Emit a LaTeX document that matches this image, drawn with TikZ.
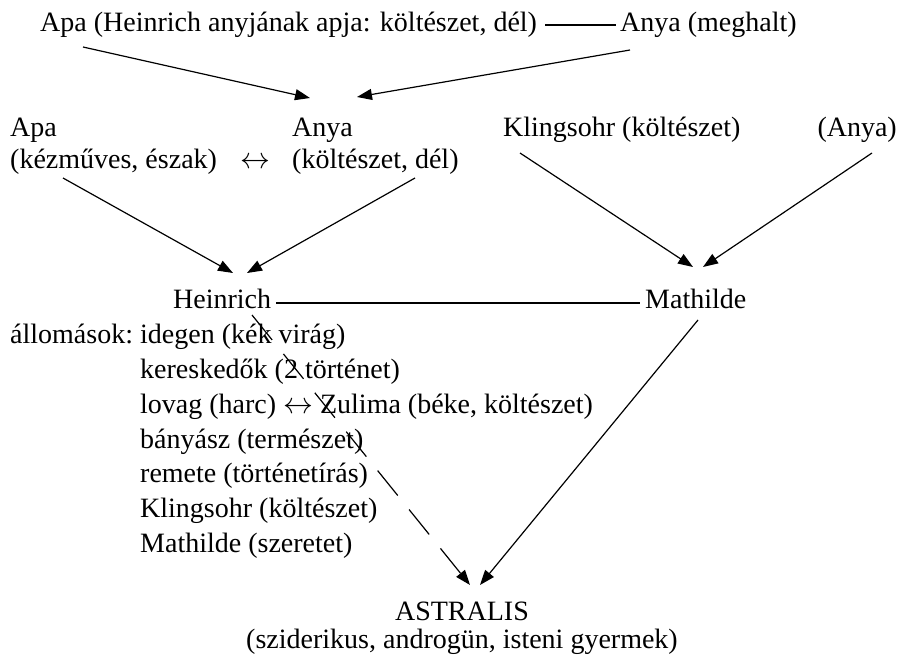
\documentclass[tikz,border=0pt]{standalone}
\usepackage{fontspec}
\setmainfont{Liberation Serif}
\usetikzlibrary{arrows.meta}
\begin{document}
\begin{tikzpicture}[x=1pt,y=-1pt,
  txt/.style={inner sep=0pt, anchor=base west, font=\fontsize{28}{34}\selectfont},
  arr/.style={line width=1.2pt, -{Triangle[length=15pt,width=11pt]}},
  link/.style={line width=1.2pt}]
\useasboundingbox (0,0) rectangle (906,658);
% row 1
\node[txt] (gpapa) at (40,32) {Apa (Heinrich anyjának apja: költészet, dél)};
\node[txt] (gpanya) at (620,32) {Anya (meghalt)};
\draw[link] ([shift={(8pt,7pt)}]gpapa.base east) -- ([shift={(-4pt,7pt)}]gpanya.base west);
% row 2
\node[txt] (apa) at (10,137) {Apa};
\node[txt] (apad) at (10,169) {(kézműves, észak)};
\node[txt] (lr) at (240,169) {\scalebox{1.2}{$\leftrightarrow$}};
\node[txt] (anya) at (292,137) {Anya};
\node[txt] (anyad) at (292,169) {(költészet, dél)};
\node[txt] (kling) at (503,137) {Klingsohr (költészet)};
\node[txt, anchor=base east] (anya3) at (897,137) {(Anya)};
% row 3
\node[txt] (heinrich) at (173,308) {Heinrich};
\node[txt] (mathilde) at (645,308) {Mathilde};
\draw[link] ([shift={(5pt,5pt)}]heinrich.base east) -- ([shift={(-5pt,5pt)}]mathilde.base west);
% stations
\node[txt] (allom) at (10,343) {állomások:};
\node[txt] (s1) at (140,343) {idegen (kék virág)};
\node[txt] (s2) at (140,378) {kereskedők (2 történet)};
\node[txt] (s3) at (140,413) {lovag (harc) \scalebox{1.2}{$\leftrightarrow$} Zulima (béke, költészet)};
\node[txt] (s4) at (140,448) {bányász (természet)};
\node[txt] (s5) at (140,482) {remete (történetírás)};
\node[txt] (s6) at (140,517) {Klingsohr (költészet)};
\node[txt] (s7) at (140,552) {Mathilde (szeretet)};
% astralis
\node[txt, anchor=base] (astr) at (462,620) {ASTRALIS};
\node[txt, anchor=base] (astrd) at (462,648) {(sziderikus, androgün, isteni gyermek)};
% connector ends
\coordinate (p1) at (83,47);   \coordinate (q1) at (310,98);
\coordinate (p2) at (630,50);  \coordinate (q2) at (357,97);
\coordinate (p3) at (63,178);  \coordinate (q3) at (233,273);
\coordinate (p4) at (415,178); \coordinate (q4) at (247,273);
\coordinate (p5) at (520,153); \coordinate (q5) at (693,267);
\coordinate (p6) at (872,153); \coordinate (q6) at (703,267);
\coordinate (p7) at (698,320); \coordinate (q7) at (480,585);
\coordinate (p8) at (252,315); \coordinate (q8) at (470,585);
\draw[arr] (p1) -- (q1);
\draw[arr] (p2) -- (q2);
\draw[arr] (p3) -- (q3);
\draw[arr] (p4) -- (q4);
\draw[arr] (p5) -- (q5);
\draw[arr] (p6) -- (q6);
\draw[arr] (p7) -- (q7);
\draw[arr, dash pattern=on 32pt off 18pt] (p8) -- (q8);
\end{tikzpicture}
\end{document}
